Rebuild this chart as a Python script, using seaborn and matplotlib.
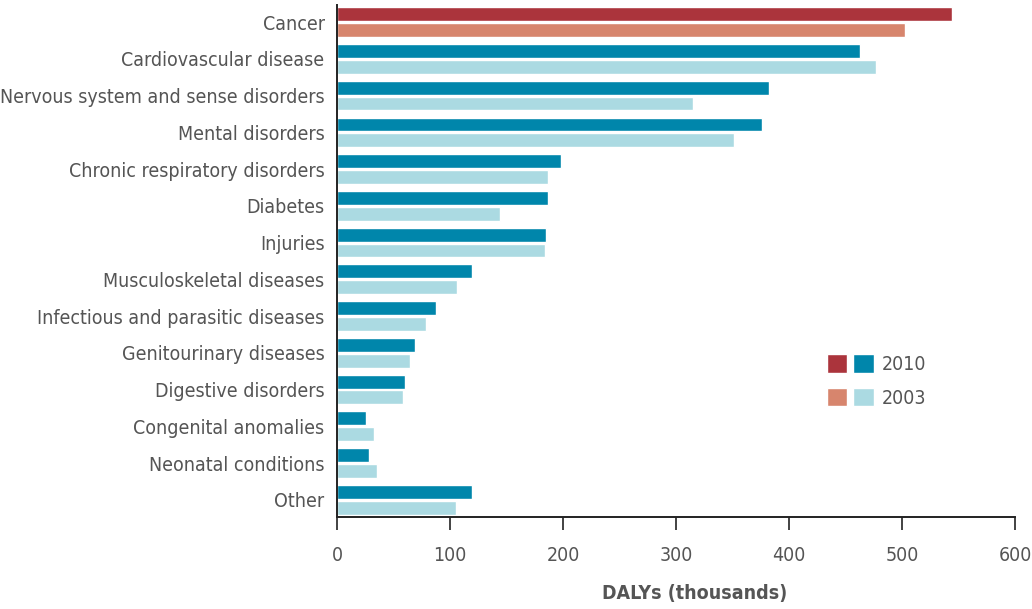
import seaborn as sns
import matplotlib.pyplot as plt
import pandas as pd
from matplotlib.patches import Patch
from matplotlib.legend_handler import HandlerTuple

categories = ["Cancer", "Cardiovascular disease", "Nervous system and sense disorders",
              "Mental disorders", "Chronic respiratory disorders", "Diabetes", "Injuries",
              "Musculoskeletal diseases", "Infectious and parasitic diseases",
              "Genitourinary diseases", "Digestive disorders", "Congenital anomalies",
              "Neonatal conditions", "Other"]
dalys_2010 = [544, 463, 382, 376, 198, 187, 185, 119, 88, 69, 60, 26, 28, 119]
dalys_2003 = [503, 477, 315, 351, 187, 144, 184, 106, 79, 65, 58, 33, 35, 105]
years = ["2010", "2003"]

# long format for seaborn
df = pd.DataFrame({
    "category": categories * 2,
    "dalys": dalys_2010 + dalys_2003,
    "year": [years[0]] * len(categories) + [years[1]] * len(categories),
})

teal = "#0086AB"
light = "#ABDAE2"
red = "#AB343C"
salmon = "#D7856D"
grey = "#555555"

sns.set_style("white")
plt.rcParams["font.family"] = ["DejaVu Sans"]
plt.rcParams["font.stretch"] = "condensed"

fig = plt.figure(figsize=(10.32, 6.09), dpi=100)
ax = fig.add_axes([0.3266, 0.151, 0.9835 - 0.3266, 0.992 - 0.151])

sns.barplot(data=df, x="dalys", y="category", hue="year", hue_order=years,
            palette=[teal, light], order=categories, width=0.86, gap=0.12,
            saturation=1, orient="h", ax=ax, legend=False)

# cancer gets its own colours
ax.containers[0][0].set_facecolor(red)
ax.containers[1][0].set_facecolor(salmon)

ax.set_xlim(0, 600)
ax.set_ylim(13.47, -0.47)
ax.set_xticks(range(0, 601, 100))
ax.set_ylabel("")
ax.set_xlabel("DALYs (thousands)", fontsize=14, fontweight="bold", color=grey,
              va="top", ha="center")
ax.xaxis.set_label_coords(0.527, -0.131)

for s in ["top", "right"]:
    ax.spines[s].set_visible(False)
for s in ["left", "bottom"]:
    ax.spines[s].set_color("#222222")
    ax.spines[s].set_linewidth(1.4)

ax.tick_params(axis="x", length=9, width=1.2, color="#222222", labelsize=14,
               labelcolor=grey, pad=12, direction="out", bottom=True)
ax.tick_params(axis="y", length=0, labelsize=14, labelcolor=grey, pad=9)

h2010 = (Patch(facecolor=red), Patch(facecolor=teal))
h2003 = (Patch(facecolor=salmon), Patch(facecolor=light))
fig.legend([h2010, h2003], years, handler_map={tuple: HandlerTuple(ndivide=None, pad=0.3)},
           loc="upper left", bbox_to_anchor=(0.7844, 0.447), frameon=False,
           fontsize=14, labelcolor=grey, handlelength=2.4, handleheight=1.1,
           handletextpad=0.4, labelspacing=0.7)

fig.savefig("out.png", dpi=100)
